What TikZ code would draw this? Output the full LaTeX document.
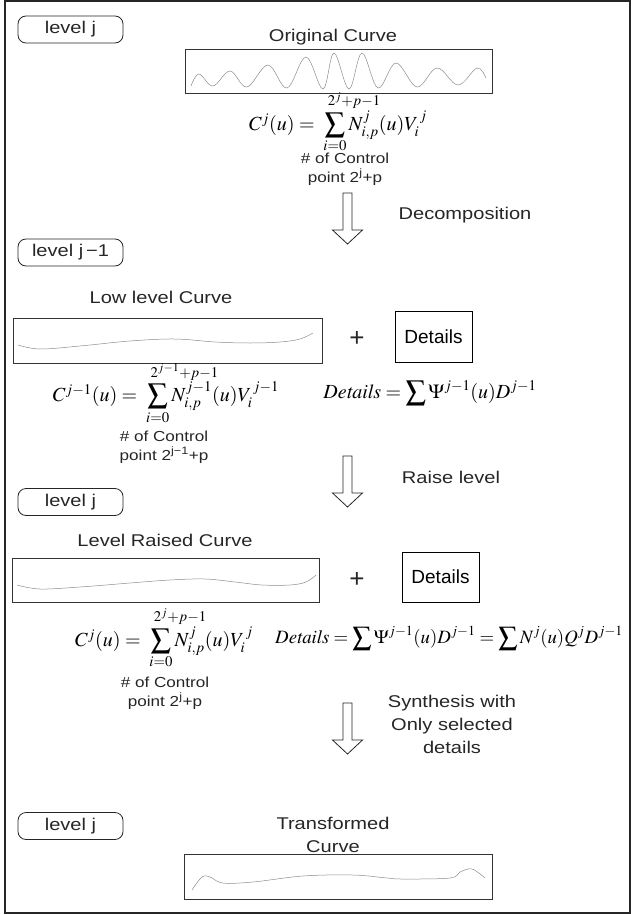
\documentclass[tikz,border=0pt]{standalone}
\usepackage{mathptmx}
\usepackage{mathtools}
\usepackage{fontspec}
\setmainfont{Liberation Sans}
\newfontfamily\labfont{Liberation Sans}[FakeStretch=1.18]
\newcommand{\lsum}[2]{\sum_{#1}^{\mathrlap{\kern-7pt\raisebox{3pt}{$\scriptstyle #2$}}}}
\begin{document}
\begin{tikzpicture}[x=1pt,y=-1pt,
  lvl/.style={draw=black!85, line width=0.8pt, rounded corners=8pt, minimum width=105pt, minimum height=27pt, inner sep=0pt, font=\labfont\fontsize{17}{20}\selectfont, text=black!85},
  lab/.style={font=\labfont\fontsize{17}{23}\selectfont, inner sep=0pt, align=center, text=black!85},
  small/.style={font=\labfont\fontsize{14.5}{19}\selectfont, align=center, inner sep=0pt, text=black!85},
  curvebox/.style={draw=black!80, line width=0.9pt, inner sep=0pt},
  wave/.style={draw=black!45, line width=0.5pt},
  detbox/.style={draw, line width=0.8pt, minimum width=77pt, minimum height=51pt, inner sep=0pt, font=\fontsize{19}{22}\selectfont},
  frm/.style={inner sep=0pt, font=\fontsize{20}{24}\selectfont},
  plus/.style={inner sep=0pt, font=\fontsize{26}{28}\selectfont, text=black!85},
  bigarrow/.pic={\draw[line width=0.8pt, black!85, line join=miter] (-4.5,0) -- (4.5,0) -- (4.5,37) -- (15,37) -- (0,51) -- (-15,37) -- (-4.5,37) -- cycle;}
]
\useasboundingbox (0,0) rectangle (631,915);
\draw[line width=1.5pt, black!85] (5,1) rectangle (630,913);

% level boxes
\node[lvl] (lv1) at (70.5,29.5) {level j};
\node[lvl] (lv2) at (70.5,252.5) {level j\,−1\hspace{4pt}};
\node[lvl] (lv3) at (70.5,502) {level j};
\node[lvl] (lv4) at (70.5,826) {level j};

% top: original curve
\node[lab] (t1) at (333,37) {Original Curve};
\node[curvebox, minimum width=307pt, minimum height=44pt] (b1) at (338.5,71) {};
\draw[wave] plot[smooth, tension=0.6] coordinates {(191,86) (199,74) (213,86) (230,71) (247,87) (268,65) (287,88) (306,57) (323,89) (334,53) (349,89) (362,53) (378,88) (396,63) (417,87) (437,68) (458,85) (477,68) (486,78)};
\node[frm] (f1) at (338,122) {$C^{j}(u) =\; \displaystyle\lsum{i=0}{2^{j}+p-1} N^{j}_{i,p}(u)V^{\,j}_{i}$};
\node[small] (n1) at (345,169) {\# of Control\\point 2\textsuperscript{j}+p};

\pic at (347.5,193) {bigarrow};
\node[lab] (d1) at (465,215) {Decomposition};

% low level
\node[lab] (t2) at (161,297) {Low level Curve};
\node[curvebox, minimum width=309pt, minimum height=45pt] (b2) at (167.5,340.5) {};
\draw[wave] plot[smooth, tension=0.6] coordinates {(18,345) (40,349) (80,346) (130,341) (175,339) (215,342) (250,343) (280,342) (300,339) (313,333)};
\node[plus] (p1) at (357,339) {+};
\node[detbox] (det1) at (433.5,337) {Details};
\node[frm] (f2) at (166,393) {$C^{j-1}(u) =\; \displaystyle\lsum{i=0}{2^{j-1}+p-1} N^{j-1}_{i,p}(u)V^{\,j-1}_{i}$};
\node[frm] (f3) at (430,393) {$\mathit{Details} = \displaystyle\sum \Psi^{j-1}(u)D^{j-1}$};
\node[small] (n2) at (164,447) {\# of Control\\point 2\textsuperscript{j−1}+p};

\pic at (347.5,456) {bigarrow};
\node[lab] (d2) at (451,477) {Raise level};

% level raised
\node[lab] (t3) at (165,540) {Level Raised Curve};
\node[curvebox, minimum width=307pt, minimum height=44pt] (b3) at (165.5,580) {};
\draw[wave] plot[smooth, tension=0.6] coordinates {(17,585) (40,589) (80,587) (130,583) (170,580) (205,579) (235,582) (262,585) (290,585) (306,582) (316,575)};
\node[plus] (p2) at (357,580) {+};
\node[detbox, minimum height=50pt] (det2) at (440.5,577) {Details};
\node[frm] (f4) at (164,638) {$C^{j}(u) =\; \displaystyle\lsum{i=0}{2^{j}+p-1} N^{j}_{i,p}(u)V^{\,j}_{i}$};
\node[frm, font=\fontsize{18.8}{22}\selectfont] (f5) at (449,638) {$\mathit{Details} = \displaystyle\sum \Psi^{j-1}(u)D^{j-1} = \sum N^{j}(u)Q^{j}D^{j-1}$};
\node[small] (n3) at (165,693) {\# of Control\\point 2\textsuperscript{j}+p};

\pic at (347.5,703) {bigarrow};
\node[lab] (d3) at (452,724) {Synthesis with\\Only selected\\details};

% transformed
\node[lab] (t4) at (333,835) {Transformed\\Curve};
\node[curvebox, minimum width=308pt, minimum height=45pt] (b4) at (338,876.5) {};
\draw[wave] plot[smooth, tension=0.6] coordinates {(192,890) (202,877) (210,877) (223,883) (253,882) (303,876) (353,875) (387,878) (403,879) (450,878) (460,872) (472,869) (485,878)};
\end{tikzpicture}
\end{document}
